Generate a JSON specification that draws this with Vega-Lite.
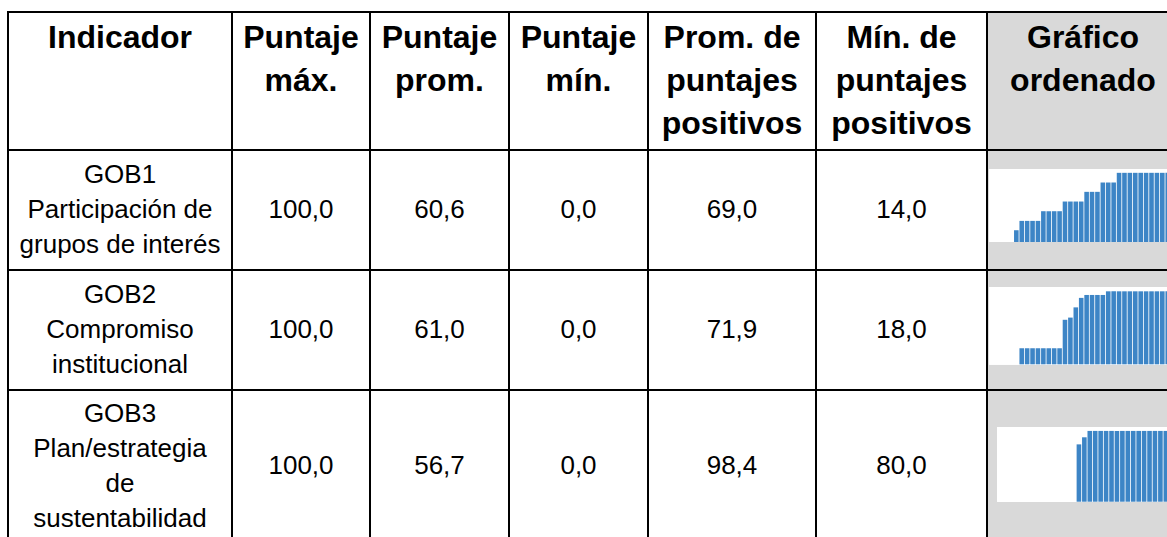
{
  "$schema": "https://vega.github.io/schema/vega-lite/v6.json",
  "padding": {"left": 7, "top": 11, "right": 0, "bottom": 0},
  "background": "white",
  "spacing": 0,
  "bounds": "flush",
  "columns": 7,
  "datasets": {
    "enc": [
      {"col": 1, "t": "Indicador\n\n"},
      {"col": 2, "t": "Puntaje\nmáx.\n"},
      {"col": 3, "t": "Puntaje\nprom.\n"},
      {"col": 4, "t": "Puntaje\nmín.\n"},
      {"col": 5, "t": "Prom. de\npuntajes\npositivos"},
      {"col": 6, "t": "Mín. de\npuntajes\npositivos"},
      {"col": 7, "t": "Gráfico\nordenado\n"}
    ],
    "tabla": [
      {"ind": "GOB1", "nombre": "GOB1\nParticipación de\ngrupos de interés", "max": 100, "prom": 60.6, "min": 0, "promPos": 69.0, "minPos": 14.0},
      {"ind": "GOB2", "nombre": "GOB2\nCompromiso\ninstitucional", "max": 100, "prom": 61.0, "min": 0, "promPos": 71.9, "minPos": 18.0},
      {"ind": "GOB3", "nombre": "GOB3\nPlan/estrategia\nde\nsustentabilidad", "max": 100, "prom": 56.7, "min": 0, "promPos": 98.4, "minPos": 80.0}
    ],
    "spark": [
      {"ind": "GOB1", "i": 0, "v": 0}, {"ind": "GOB1", "i": 1, "v": 0}, {"ind": "GOB1", "i": 2, "v": 0}, {"ind": "GOB1", "i": 3, "v": 0}, {"ind": "GOB1", "i": 4, "v": 0},
      {"ind": "GOB1", "i": 5, "v": 17},
      {"ind": "GOB1", "i": 6, "v": 30.5}, {"ind": "GOB1", "i": 7, "v": 30.5}, {"ind": "GOB1", "i": 8, "v": 30.5}, {"ind": "GOB1", "i": 9, "v": 30.5},
      {"ind": "GOB1", "i": 10, "v": 44.5}, {"ind": "GOB1", "i": 11, "v": 44.5}, {"ind": "GOB1", "i": 12, "v": 44.5}, {"ind": "GOB1", "i": 13, "v": 44.5},
      {"ind": "GOB1", "i": 14, "v": 58.5}, {"ind": "GOB1", "i": 15, "v": 58.5}, {"ind": "GOB1", "i": 16, "v": 58.5}, {"ind": "GOB1", "i": 17, "v": 58.5},
      {"ind": "GOB1", "i": 18, "v": 72.5}, {"ind": "GOB1", "i": 19, "v": 72.5}, {"ind": "GOB1", "i": 20, "v": 72.5},
      {"ind": "GOB1", "i": 21, "v": 86}, {"ind": "GOB1", "i": 22, "v": 86}, {"ind": "GOB1", "i": 23, "v": 86},
      {"ind": "GOB1", "i": 24, "v": 100}, {"ind": "GOB1", "i": 25, "v": 100}, {"ind": "GOB1", "i": 26, "v": 100}, {"ind": "GOB1", "i": 27, "v": 100}, {"ind": "GOB1", "i": 28, "v": 100}, {"ind": "GOB1", "i": 29, "v": 100}, {"ind": "GOB1", "i": 30, "v": 100}, {"ind": "GOB1", "i": 31, "v": 100}, {"ind": "GOB1", "i": 32, "v": 100}, {"ind": "GOB1", "i": 33, "v": 100}, {"ind": "GOB1", "i": 34, "v": 100},
      {"ind": "GOB2", "i": 0, "v": 0}, {"ind": "GOB2", "i": 1, "v": 0}, {"ind": "GOB2", "i": 2, "v": 0}, {"ind": "GOB2", "i": 3, "v": 0}, {"ind": "GOB2", "i": 4, "v": 0}, {"ind": "GOB2", "i": 5, "v": 0},
      {"ind": "GOB2", "i": 6, "v": 22}, {"ind": "GOB2", "i": 7, "v": 22}, {"ind": "GOB2", "i": 8, "v": 22}, {"ind": "GOB2", "i": 9, "v": 22}, {"ind": "GOB2", "i": 10, "v": 22}, {"ind": "GOB2", "i": 11, "v": 22}, {"ind": "GOB2", "i": 12, "v": 22}, {"ind": "GOB2", "i": 13, "v": 22},
      {"ind": "GOB2", "i": 14, "v": 61}, {"ind": "GOB2", "i": 15, "v": 64}, {"ind": "GOB2", "i": 16, "v": 78}, {"ind": "GOB2", "i": 17, "v": 91},
      {"ind": "GOB2", "i": 18, "v": 95}, {"ind": "GOB2", "i": 19, "v": 95}, {"ind": "GOB2", "i": 20, "v": 95}, {"ind": "GOB2", "i": 21, "v": 95},
      {"ind": "GOB2", "i": 22, "v": 100}, {"ind": "GOB2", "i": 23, "v": 100}, {"ind": "GOB2", "i": 24, "v": 100}, {"ind": "GOB2", "i": 25, "v": 100}, {"ind": "GOB2", "i": 26, "v": 100}, {"ind": "GOB2", "i": 27, "v": 100}, {"ind": "GOB2", "i": 28, "v": 100}, {"ind": "GOB2", "i": 29, "v": 100}, {"ind": "GOB2", "i": 30, "v": 100}, {"ind": "GOB2", "i": 31, "v": 100}, {"ind": "GOB2", "i": 32, "v": 100}, {"ind": "GOB2", "i": 33, "v": 100}, {"ind": "GOB2", "i": 34, "v": 100},
      {"ind": "GOB3", "i": 0, "v": 0}, {"ind": "GOB3", "i": 1, "v": 0}, {"ind": "GOB3", "i": 2, "v": 0}, {"ind": "GOB3", "i": 3, "v": 0}, {"ind": "GOB3", "i": 4, "v": 0}, {"ind": "GOB3", "i": 5, "v": 0}, {"ind": "GOB3", "i": 6, "v": 0}, {"ind": "GOB3", "i": 7, "v": 0}, {"ind": "GOB3", "i": 8, "v": 0}, {"ind": "GOB3", "i": 9, "v": 0}, {"ind": "GOB3", "i": 10, "v": 0}, {"ind": "GOB3", "i": 11, "v": 0}, {"ind": "GOB3", "i": 12, "v": 0}, {"ind": "GOB3", "i": 13, "v": 0}, {"ind": "GOB3", "i": 14, "v": 0},
      {"ind": "GOB3", "i": 15, "v": 81}, {"ind": "GOB3", "i": 16, "v": 91},
      {"ind": "GOB3", "i": 17, "v": 100}, {"ind": "GOB3", "i": 18, "v": 100}, {"ind": "GOB3", "i": 19, "v": 100}, {"ind": "GOB3", "i": 20, "v": 100}, {"ind": "GOB3", "i": 21, "v": 100}, {"ind": "GOB3", "i": 22, "v": 100}, {"ind": "GOB3", "i": 23, "v": 100}, {"ind": "GOB3", "i": 24, "v": 100}, {"ind": "GOB3", "i": 25, "v": 100}, {"ind": "GOB3", "i": 26, "v": 100}, {"ind": "GOB3", "i": 27, "v": 100}, {"ind": "GOB3", "i": 28, "v": 100}, {"ind": "GOB3", "i": 29, "v": 100}, {"ind": "GOB3", "i": 30, "v": 100}, {"ind": "GOB3", "i": 31, "v": 100}, {"ind": "GOB3", "i": 32, "v": 100}, {"ind": "GOB3", "i": 33, "v": 100}
    ]
  },
  "concat": [
    {"width": 224, "height": 138, "view": {"fill": "white", "stroke": "black", "strokeWidth": 2}, "data": {"name": "enc"}, "transform": [{"filter": "datum.col == 1"}], "mark": {"type": "text", "style": "enc"}, "encoding": {"text": {"field": "t"}}},
    {"width": 138, "height": 138, "view": {"fill": "white", "stroke": "black", "strokeWidth": 2}, "data": {"name": "enc"}, "transform": [{"filter": "datum.col == 2"}], "mark": {"type": "text", "style": "enc"}, "encoding": {"text": {"field": "t"}}},
    {"width": 139, "height": 138, "view": {"fill": "white", "stroke": "black", "strokeWidth": 2}, "data": {"name": "enc"}, "transform": [{"filter": "datum.col == 3"}], "mark": {"type": "text", "style": "enc"}, "encoding": {"text": {"field": "t"}}},
    {"width": 139, "height": 138, "view": {"fill": "white", "stroke": "black", "strokeWidth": 2}, "data": {"name": "enc"}, "transform": [{"filter": "datum.col == 4"}], "mark": {"type": "text", "style": "enc"}, "encoding": {"text": {"field": "t"}}},
    {"width": 168, "height": 138, "view": {"fill": "white", "stroke": "black", "strokeWidth": 2}, "data": {"name": "enc"}, "transform": [{"filter": "datum.col == 5"}], "mark": {"type": "text", "style": "enc"}, "encoding": {"text": {"field": "t"}}},
    {"width": 171, "height": 138, "view": {"fill": "white", "stroke": "black", "strokeWidth": 2}, "data": {"name": "enc"}, "transform": [{"filter": "datum.col == 6"}], "mark": {"type": "text", "style": "enc"}, "encoding": {"text": {"field": "t"}}},
    {"width": 192, "height": 138, "view": {"fill": "#d9d9d9", "stroke": "black", "strokeWidth": 2}, "data": {"name": "enc"}, "transform": [{"filter": "datum.col == 7"}], "mark": {"type": "text", "style": "enc"}, "encoding": {"text": {"field": "t"}}},

    {"width": 224, "height": 120, "view": {"fill": "white", "stroke": "black", "strokeWidth": 2}, "data": {"name": "tabla"}, "transform": [{"filter": "datum.ind == 'GOB1'"}], "mark": {"type": "text", "style": "cuerpo", "dy": -35}, "encoding": {"text": {"field": "nombre"}}},
    {"width": 138, "height": 120, "view": {"fill": "white", "stroke": "black", "strokeWidth": 2}, "data": {"name": "tabla"}, "transform": [{"filter": "datum.ind == 'GOB1'"}], "mark": {"type": "text", "style": "cuerpo"}, "encoding": {"text": {"field": "max", "format": ".1f"}}},
    {"width": 139, "height": 120, "view": {"fill": "white", "stroke": "black", "strokeWidth": 2}, "data": {"name": "tabla"}, "transform": [{"filter": "datum.ind == 'GOB1'"}], "mark": {"type": "text", "style": "cuerpo"}, "encoding": {"text": {"field": "prom", "format": ".1f"}}},
    {"width": 139, "height": 120, "view": {"fill": "white", "stroke": "black", "strokeWidth": 2}, "data": {"name": "tabla"}, "transform": [{"filter": "datum.ind == 'GOB1'"}], "mark": {"type": "text", "style": "cuerpo"}, "encoding": {"text": {"field": "min", "format": ".1f"}}},
    {"width": 168, "height": 120, "view": {"fill": "white", "stroke": "black", "strokeWidth": 2}, "data": {"name": "tabla"}, "transform": [{"filter": "datum.ind == 'GOB1'"}], "mark": {"type": "text", "style": "cuerpo"}, "encoding": {"text": {"field": "promPos", "format": ".1f"}}},
    {"width": 171, "height": 120, "view": {"fill": "white", "stroke": "black", "strokeWidth": 2}, "data": {"name": "tabla"}, "transform": [{"filter": "datum.ind == 'GOB1'"}], "mark": {"type": "text", "style": "cuerpo"}, "encoding": {"text": {"field": "minPos", "format": ".1f"}}},
    {
      "width": 192, "height": 120, "view": {"fill": "#d9d9d9", "stroke": "black", "strokeWidth": 2},
      "data": {"name": "spark"}, "transform": [{"filter": "datum.ind == 'GOB1'"}],
      "encoding": {"x": {"field": "i", "type": "ordinal", "axis": null, "scale": {"paddingInner": 0.15, "paddingOuter": 0.33, "align": 0}}},
      "layer": [
        {"mark": {"type": "rect", "color": "white"}, "encoding": {"x": {"datum": 0, "type": "ordinal"}, "x2": {"datum": 34}, "y": {"datum": 0, "type": "quantitative", "axis": null, "scale": {"domain": [-40.5, 133]}}, "y2": {"datum": 105.5}}},
        {"mark": {"type": "bar", "color": "#3d85c6"}, "encoding": {"y": {"field": "v", "type": "quantitative", "axis": null, "scale": {"domain": [-40.5, 133]}}, "y2": {"datum": 0}}}
      ]
    },

    {"width": 224, "height": 120, "view": {"fill": "white", "stroke": "black", "strokeWidth": 2}, "data": {"name": "tabla"}, "transform": [{"filter": "datum.ind == 'GOB2'"}], "mark": {"type": "text", "style": "cuerpo", "dy": -35}, "encoding": {"text": {"field": "nombre"}}},
    {"width": 138, "height": 120, "view": {"fill": "white", "stroke": "black", "strokeWidth": 2}, "data": {"name": "tabla"}, "transform": [{"filter": "datum.ind == 'GOB2'"}], "mark": {"type": "text", "style": "cuerpo"}, "encoding": {"text": {"field": "max", "format": ".1f"}}},
    {"width": 139, "height": 120, "view": {"fill": "white", "stroke": "black", "strokeWidth": 2}, "data": {"name": "tabla"}, "transform": [{"filter": "datum.ind == 'GOB2'"}], "mark": {"type": "text", "style": "cuerpo"}, "encoding": {"text": {"field": "prom", "format": ".1f"}}},
    {"width": 139, "height": 120, "view": {"fill": "white", "stroke": "black", "strokeWidth": 2}, "data": {"name": "tabla"}, "transform": [{"filter": "datum.ind == 'GOB2'"}], "mark": {"type": "text", "style": "cuerpo"}, "encoding": {"text": {"field": "min", "format": ".1f"}}},
    {"width": 168, "height": 120, "view": {"fill": "white", "stroke": "black", "strokeWidth": 2}, "data": {"name": "tabla"}, "transform": [{"filter": "datum.ind == 'GOB2'"}], "mark": {"type": "text", "style": "cuerpo"}, "encoding": {"text": {"field": "promPos", "format": ".1f"}}},
    {"width": 171, "height": 120, "view": {"fill": "white", "stroke": "black", "strokeWidth": 2}, "data": {"name": "tabla"}, "transform": [{"filter": "datum.ind == 'GOB2'"}], "mark": {"type": "text", "style": "cuerpo"}, "encoding": {"text": {"field": "minPos", "format": ".1f"}}},
    {
      "width": 192, "height": 120, "view": {"fill": "#d9d9d9", "stroke": "black", "strokeWidth": 2},
      "data": {"name": "spark"}, "transform": [{"filter": "datum.ind == 'GOB2'"}],
      "encoding": {"x": {"field": "i", "type": "ordinal", "axis": null, "scale": {"paddingInner": 0.15, "paddingOuter": 0.33, "align": 0}}},
      "layer": [
        {"mark": {"type": "rect", "color": "white"}, "encoding": {"x": {"datum": 0, "type": "ordinal"}, "x2": {"datum": 34}, "y": {"datum": 0, "type": "quantitative", "axis": null, "scale": {"domain": [-35.2, 129.2]}}, "y2": {"datum": 105.5}}},
        {"mark": {"type": "bar", "color": "#3d85c6"}, "encoding": {"y": {"field": "v", "type": "quantitative", "axis": null, "scale": {"domain": [-35.2, 129.2]}}, "y2": {"datum": 0}}}
      ]
    },

    {"width": 224, "height": 152, "view": {"fill": "white", "stroke": "black", "strokeWidth": 2}, "data": {"name": "tabla"}, "transform": [{"filter": "datum.ind == 'GOB3'"}], "mark": {"type": "text", "style": "cuerpo", "dy": -52.5}, "encoding": {"text": {"field": "nombre"}}},
    {"width": 138, "height": 152, "view": {"fill": "white", "stroke": "black", "strokeWidth": 2}, "data": {"name": "tabla"}, "transform": [{"filter": "datum.ind == 'GOB3'"}], "mark": {"type": "text", "style": "cuerpo"}, "encoding": {"text": {"field": "max", "format": ".1f"}}},
    {"width": 139, "height": 152, "view": {"fill": "white", "stroke": "black", "strokeWidth": 2}, "data": {"name": "tabla"}, "transform": [{"filter": "datum.ind == 'GOB3'"}], "mark": {"type": "text", "style": "cuerpo"}, "encoding": {"text": {"field": "prom", "format": ".1f"}}},
    {"width": 139, "height": 152, "view": {"fill": "white", "stroke": "black", "strokeWidth": 2}, "data": {"name": "tabla"}, "transform": [{"filter": "datum.ind == 'GOB3'"}], "mark": {"type": "text", "style": "cuerpo"}, "encoding": {"text": {"field": "min", "format": ".1f"}}},
    {"width": 168, "height": 152, "view": {"fill": "white", "stroke": "black", "strokeWidth": 2}, "data": {"name": "tabla"}, "transform": [{"filter": "datum.ind == 'GOB3'"}], "mark": {"type": "text", "style": "cuerpo"}, "encoding": {"text": {"field": "promPos", "format": ".1f"}}},
    {"width": 171, "height": 152, "view": {"fill": "white", "stroke": "black", "strokeWidth": 2}, "data": {"name": "tabla"}, "transform": [{"filter": "datum.ind == 'GOB3'"}], "mark": {"type": "text", "style": "cuerpo"}, "encoding": {"text": {"field": "minPos", "format": ".1f"}}},
    {
      "width": 192, "height": 152, "view": {"fill": "#d9d9d9", "stroke": "black", "strokeWidth": 2},
      "data": {"name": "spark"}, "transform": [{"filter": "datum.ind == 'GOB3'"}],
      "encoding": {"x": {"field": "i", "type": "ordinal", "axis": null, "scale": {"paddingInner": 0.15, "paddingOuter": 0.75, "align": 1}}},
      "layer": [
        {"mark": {"type": "rect", "color": "white"}, "encoding": {"x": {"datum": 0, "type": "ordinal"}, "x2": {"datum": 33}, "y": {"datum": 0, "type": "quantitative", "axis": null, "scale": {"domain": [-56.9, 157.8]}}, "y2": {"datum": 105.5}}},
        {"mark": {"type": "bar", "color": "#3d85c6"}, "encoding": {"y": {"field": "v", "type": "quantitative", "axis": null, "scale": {"domain": [-56.9, 157.8]}}, "y2": {"datum": 0}}}
      ]
    }
  ],
  "config": {
    "locale": {"number": {"decimal": ",", "thousands": ".", "grouping": [3], "currency": ["", " €"]}},
    "view": {"stroke": "#000000", "strokeWidth": 2},
    "concat": {"spacing": 0},
    "style": {
      "enc": {"font": "Liberation Sans", "fontSize": 32, "fontWeight": "bold", "lineHeight": 43, "lineBreak": "\n", "align": "center", "baseline": "middle", "dy": -43, "fill": "#000000"},
      "cuerpo": {"font": "Liberation Sans", "fontSize": 26, "lineHeight": 35, "lineBreak": "\n", "align": "center", "baseline": "middle", "fill": "#000000"}
    }
  }
}
